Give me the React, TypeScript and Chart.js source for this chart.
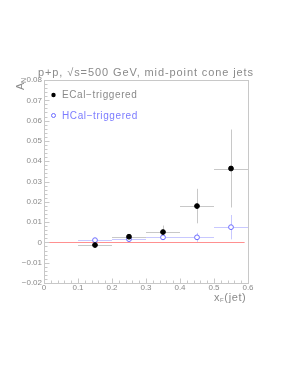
import React, { useEffect, useRef } from "react";
import { Chart, registerables } from "chart.js";

Chart.register(...registerables);

const xCenters = [0.15, 0.25, 0.35, 0.45, 0.55];
const xHalfWidth = [0.05, 0.05, 0.05, 0.05, 0.05];
const ecalValues = [-0.0013, 0.0028, 0.0051, 0.0179, 0.0364];
const ecalErrors = [0.0012, 0.0012, 0.0032, 0.0085, 0.0192];
const hcalValues = [0.0011, 0.0016, 0.0025, 0.0025, 0.0075];
const hcalErrors = [0.0008, 0.0009, 0.0012, 0.0022, 0.006];
const zeroLineX = [0, 0.59];
const xTickLabels = ["0", "0.1", "0.2", "0.3", "0.4", "0.5", "0.6"];
const yTickLabels = ["-0.02", "-0.01", "0", "0.01", "0.02", "0.03", "0.04", "0.05", "0.06", "0.07", "0.08"];

const FONT = "'Liberation Sans', Arial, sans-serif";
const GREY = "#8a8a8a";
const FRAME = "#c8c8c8";
const ECAL_BAR = "#c8c8c8";
const HCAL_BAR = "#c8c8ff";
const HCAL_COLOR = "#6a6aff";

function fmtTick(v: number, labels: string[]) {
  const s = Math.abs(v) < 1e-9 ? "0" : String(Math.round(v * 1000) / 1000);
  const found = labels.find((l) => Number(l) === Number(s));
  return found !== undefined ? found.replace("-", "\u2212") : "";
}

const errorBarPlugin = {
  id: "errorBars",
  beforeDatasetsDraw(chart: any) {
    const ctx = chart.ctx;
    const xs = chart.scales.x;
    const ys = chart.scales.y;
    ctx.save();
    ctx.strokeStyle = "#ff9090";
    ctx.lineWidth = 1;
    ctx.beginPath();
    ctx.moveTo(xs.getPixelForValue(zeroLineX[0]), Math.round(ys.getPixelForValue(0)) + 0.5);
    ctx.lineTo(xs.getPixelForValue(zeroLineX[1]), Math.round(ys.getPixelForValue(0)) + 0.5);
    ctx.stroke();
    const drawSet = (vals: number[], errs: number[], color: string) => {
      ctx.strokeStyle = color;
      ctx.lineWidth = 1;
      vals.forEach((v, i) => {
        const cx = Math.round(xs.getPixelForValue(xCenters[i])) + 0.5;
        const cy = Math.round(ys.getPixelForValue(v)) + 0.5;
        ctx.beginPath();
        ctx.moveTo(xs.getPixelForValue(xCenters[i] - xHalfWidth[i]), cy);
        ctx.lineTo(xs.getPixelForValue(xCenters[i] + xHalfWidth[i]), cy);
        ctx.moveTo(cx, ys.getPixelForValue(v + errs[i]));
        ctx.lineTo(cx, ys.getPixelForValue(v - errs[i]));
        ctx.stroke();
      });
    };
    drawSet(ecalValues, ecalErrors, ECAL_BAR);
    drawSet(hcalValues, hcalErrors, HCAL_BAR);
    ctx.restore();
  },
  afterDraw(chart: any) {
    const ctx = chart.ctx;
    const xs = chart.scales.x;
    const ys = chart.scales.y;
    const a = chart.chartArea;
    ctx.save();
    ctx.strokeStyle = FRAME;
    ctx.lineWidth = 1;
    const l = Math.round(a.left) + 0.5;
    const r = Math.round(a.right) + 0.5;
    const t = Math.round(a.top) + 0.5;
    const b = Math.round(a.bottom) + 0.5;
    ctx.strokeRect(l, t, r - l, b - t);
    ctx.beginPath();
    for (let k = 0; k <= 30; k++) {
      const v = k * 0.02;
      const px = Math.round(xs.getPixelForValue(v)) + 0.5;
      const len = k % 5 === 0 ? 5 : 3;
      ctx.moveTo(px, b);
      ctx.lineTo(px, b - len);
    }
    for (let k = 0; k <= 50; k++) {
      const v = -0.02 + k * 0.002;
      const py = Math.round(ys.getPixelForValue(v)) + 0.5;
      const len = k % 5 === 0 ? 5 : 3;
      ctx.moveTo(l, py);
      ctx.lineTo(l + len, py);
    }
    ctx.stroke();

    // Title
    ctx.fillStyle = GREY;
    (ctx as any).letterSpacing = "0.9px";
    ctx.font = `11px ${FONT}`;
    ctx.textAlign = "left";
    ctx.textBaseline = "alphabetic";
    ctx.fillText("p+p, \u221As=500 GeV, mid-point cone jets", 38, 76);

    // Y title A_N rotated
    (ctx as any).letterSpacing = "0px";
    ctx.save();
    ctx.translate(24, 90);
    ctx.rotate(-Math.PI / 2);
    ctx.textAlign = "left";
    ctx.font = `11px ${FONT}`;
    ctx.fillText("A", 0, 0);
    ctx.font = `7px ${FONT}`;
    ctx.fillText("N", 7, 2);
    ctx.restore();

    // X title
    (ctx as any).letterSpacing = "0.6px";
    ctx.textAlign = "left";
    ctx.font = `11px ${FONT}`;
    const base = 301;
    let x0 = 214;
    ctx.fillText("x", x0, base);
    x0 += ctx.measureText("x").width;
    ctx.font = `6px ${FONT}`;
    ctx.fillText("F", x0, base + 1);
    x0 += ctx.measureText("F").width;
    ctx.font = `11px ${FONT}`;
    ctx.fillText("(jet)", x0, base);

    // Legend
    (ctx as any).letterSpacing = "0.6px";
    ctx.textAlign = "left";
    ctx.textBaseline = "middle";
    ctx.font = `10px ${FONT}`;
    ctx.fillStyle = "#000";
    ctx.beginPath();
    ctx.arc(53.5, 95, 2.2, 0, Math.PI * 2);
    ctx.fill();
    ctx.fillStyle = GREY;
    ctx.fillText("ECal\u2212triggered", 62, 95.5);
    ctx.strokeStyle = HCAL_COLOR;
    ctx.beginPath();
    ctx.arc(53.5, 115.5, 2, 0, Math.PI * 2);
    ctx.stroke();
    ctx.fillStyle = "#7c7cff";
    ctx.fillText("HCal\u2212triggered", 62, 116);
    ctx.restore();
  },
};

export default function App() {
  const ref = useRef<HTMLCanvasElement | null>(null);
  useEffect(() => {
    document.body.style.margin = "0";
    if (!ref.current) return;
    const chart = new Chart(ref.current, {
      type: "scatter",
      data: {
        datasets: [
          {
            label: "ECal-triggered",
            data: xCenters.map((x, i) => ({ x, y: ecalValues[i] })),
            backgroundColor: "#000",
            borderColor: "#000",
            pointRadius: 2.4,
            pointStyle: "circle",
          },
          {
            label: "HCal-triggered",
            data: xCenters.map((x, i) => ({ x, y: hcalValues[i] })),
            backgroundColor: "#fff",
            borderColor: HCAL_COLOR,
            borderWidth: 1,
            pointRadius: 2.4,
            pointStyle: "circle",
          },
        ],
      },
      options: {
        animation: false,
        responsive: false,
        devicePixelRatio: 1,
        layout: { padding: { left: 0, top: 80, right: 51, bottom: 84 } },
        plugins: { legend: { display: false }, tooltip: { enabled: false }, title: { display: false } },
        scales: {
          x: {
            type: "linear",
            min: 0,
            max: 0.6,
            grid: { display: false, drawTicks: false },
            border: { display: false },
            afterFit: (s: any) => {
              s.height = 20;
            },
            ticks: {
              stepSize: 0.1,
              padding: 0,
              color: GREY,
              font: { family: FONT, size: 8 },
              maxRotation: 0,
              callback: (v: any) => fmtTick(Number(v), xTickLabels),
            },
          },
          y: {
            type: "linear",
            min: -0.02,
            max: 0.08,
            grid: { display: false, drawTicks: false },
            border: { display: false },
            afterFit: (s: any) => {
              s.width = 44;
            },
            ticks: {
              stepSize: 0.01,
              padding: 2,
              color: GREY,
              font: { family: FONT, size: 8 },
              callback: (v: any) => fmtTick(Number(v), yTickLabels),
            },
          },
        },
      },
      plugins: [errorBarPlugin],
    } as any);
    return () => chart.destroy();
  }, []);
  return (
    <div style={{ width: 299, height: 387 }}>
      <canvas ref={ref} width={299} height={387} style={{ display: "block" }} />
    </div>
  );
}
